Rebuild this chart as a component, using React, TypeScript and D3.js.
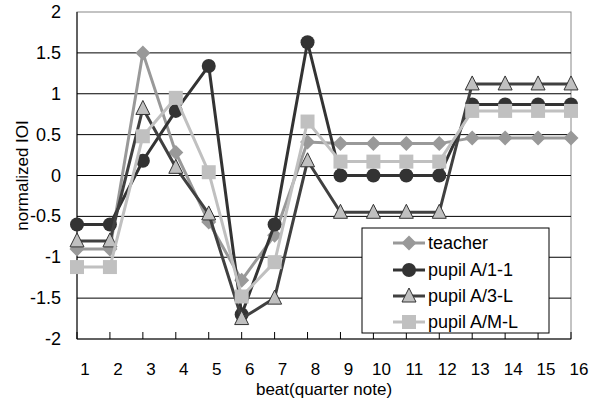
import React from "react";
import * as d3 from "d3";

const beats = d3.range(1, 17);
const teacher = [-0.9, -0.9, 1.5, 0.28, -0.57, -1.28, -0.73, 0.41, 0.39, 0.39, 0.39, 0.39, 0.46, 0.46, 0.46, 0.46];
const pupil11 = [-0.6, -0.6, 0.18, 0.79, 1.34, -1.7, -0.6, 1.63, 0, 0, 0, 0, 0.87, 0.87, 0.87, 0.87];
const pupil3L = [-0.8, -0.8, 0.82, 0.1, -0.47, -1.75, -1.5, 0.18, -0.45, -0.45, -0.45, -0.45, 1.12, 1.12, 1.12, 1.12];
const pupilML = [-1.12, -1.12, 0.48, 0.95, 0.04, -1.48, -1.06, 0.66, 0.17, 0.17, 0.17, 0.17, 0.79, 0.79, 0.79, 0.79];
const yTicks = [-2, -1.5, -1, -0.5, 0, 0.5, 1, 1.5, 2];

const series = [
  { name: "teacher", values: teacher, line: "#999999", fill: "#999999", stroke: "none", shape: "diamond" },
  { name: "pupil A/1-1", values: pupil11, line: "#333333", fill: "#333333", stroke: "none", shape: "circle" },
  { name: "pupil A/3-L", values: pupil3L, line: "#404040", fill: "#c0c0c0", stroke: "#333333", shape: "triangle" },
  { name: "pupil A/M-L", values: pupilML, line: "#c0c0c0", fill: "#c0c0c0", stroke: "none", shape: "square" },
];

const width = 605,
  height = 402;
const margin = { top: 12, right: 34, bottom: 63, left: 77 };

const x = d3.scaleLinear().domain([1, 16]).range([margin.left, width - margin.right]);
const y = d3.scaleLinear().domain([-2, 2]).range([height - margin.bottom, margin.top]);

// marker outlines, centred on 0,0
const shapes: any = {
  diamond: "M0,-7.5L7.5,0L0,7.5L-7.5,0Z",
  circle: d3.symbol().type(d3.symbolCircle).size(Math.PI * 49)(),
  triangle: "M0,-8L7,6L-7,6Z",
  square: "M-7,-7H7V7H-7Z",
};

const font = "'Liberation Sans', Arial, sans-serif";

function Marker({ shape, cx, cy, fill, stroke }: any) {
  return <path d={shapes[shape]} transform={`translate(${cx},${cy})`} fill={fill} stroke={stroke} strokeWidth={1} />;
}

export default function App() {
  const line = d3
    .line<number>()
    .x((d, i) => x(beats[i]))
    .y((d) => y(d));
  const x0 = margin.left,
    x1 = width - margin.right,
    y0 = margin.top,
    y1 = height - margin.bottom;
  const legend = { x: 362, y: 228, w: 187, h: 105 };
  const legendRows = [243, 270, 296, 322];

  return (
    <svg
      width={width}
      height={height}
      style={{ position: "absolute", left: 0, top: 0, background: "#fff" }}
      fontFamily={font}
    >
      {/* plot border */}
      <rect x={x0} y={y0} width={x1 - x0} height={y1 - y0} fill="none" stroke="#888" strokeWidth={1} />
      {/* grid */}
      {yTicks.map((t) =>
        t > -2 && t < 2 ? <line key={t} x1={x0} x2={x1} y1={y(t)} y2={y(t)} stroke="#000" strokeWidth={1} /> : null
      )}
      {/* axes */}
      <line x1={x0} x2={x0} y1={y0} y2={y1} stroke="#000" strokeWidth={1} />
      <line x1={x0} x2={x1} y1={y1} y2={y1} stroke="#000" strokeWidth={1} />
      {beats.map((b) => (
        <line key={b} x1={x(b)} x2={x(b)} y1={y1 - 7} y2={y1} stroke="#000" strokeWidth={1} />
      ))}
      {yTicks.map((t) => (
        <text key={t} x={61} y={y(t) + 6} textAnchor="end" fontSize={18}>
          {t}
        </text>
      ))}
      {beats.map((b) => (
        <text key={b} x={x(b) + 8} y={375} textAnchor="middle" fontSize={17}>
          {b}
        </text>
      ))}
      <text x={(x0 + x1) / 2} y={395} textAnchor="middle" fontSize={17}>
        beat(quarter note)
      </text>
      <text transform={`translate(28,${(y0 + y1) / 2}) rotate(-90)`} textAnchor="middle" fontSize={17}>
        normalized IOI
      </text>
      {/* series */}
      {series.map((s) => (
        <g key={s.name}>
          <path d={line(s.values) || ""} fill="none" stroke={s.line} strokeWidth={3} />
          {s.values.map((v, i) => (
            <Marker key={i} shape={s.shape} cx={x(beats[i])} cy={y(v)} fill={s.fill} stroke={s.stroke} />
          ))}
        </g>
      ))}
      {/* legend */}
      <rect x={legend.x} y={legend.y} width={legend.w} height={legend.h} fill="#fff" stroke="#000" strokeWidth={1} />
      {series.map((s, i) => (
        <g key={s.name}>
          <line x1={393} x2={425} y1={legendRows[i]} y2={legendRows[i]} stroke={s.line} strokeWidth={3} />
          <Marker shape={s.shape} cx={409} cy={legendRows[i]} fill={s.fill} stroke={s.stroke} />
          <text x={428} y={legendRows[i] + 6} fontSize={18}>
            {s.name}
          </text>
        </g>
      ))}
    </svg>
  );
}
